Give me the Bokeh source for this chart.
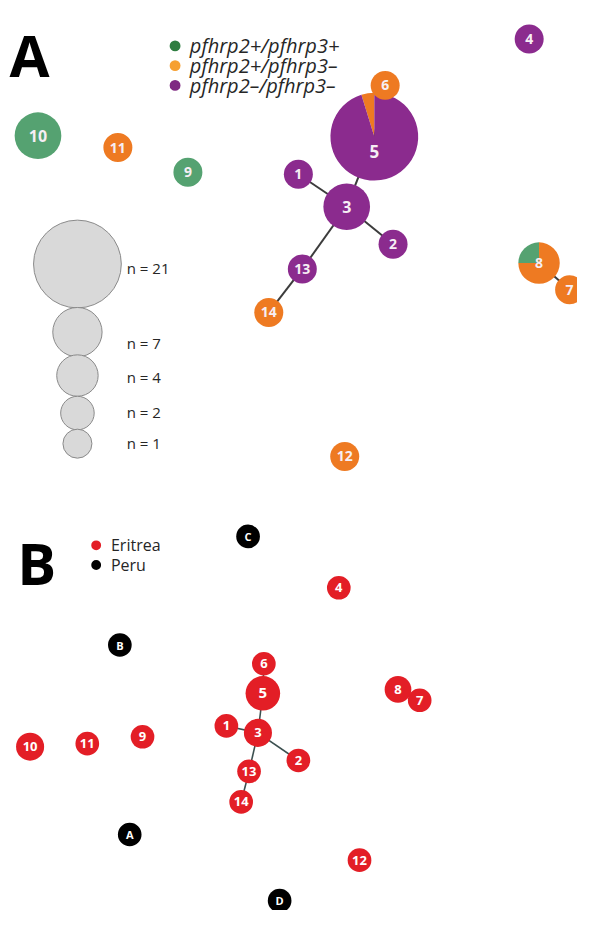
import numpy as np
from bokeh.plotting import figure
from bokeh.models import ColumnDataSource, Range1d
from bokeh.core.properties import value
from bokeh.embed import file_html
from bokeh.resources import INLINE

# ---------------- data ----------------
hap_ids = ["1", "2", "3", "4", "5", "6", "7", "8", "9", "10", "11", "12", "13", "14"]
# haplotype counts per pfhrp2/3 status (panel A)
n_green = [0, 0, 0, 0, 0, 0, 0, 1, 1, 6, 0, 0, 0, 0]    # pfhrp2+/pfhrp3+
n_orange = [0, 0, 0, 0, 1, 1, 1, 3, 0, 0, 1, 1, 0, 1]   # pfhrp2+/pfhrp3-
n_purple = [1, 1, 6, 1, 20, 0, 0, 0, 0, 0, 0, 0, 1, 0]  # pfhrp2-/pfhrp3-
edges = [("6", "5"), ("5", "3"), ("1", "3"), ("3", "2"), ("3", "13"), ("13", "14"), ("8", "7")]

# network layout (picture coordinates, y downwards)
a_x = [302, 398, 351, 536, 379, 390, 577, 546, 190, 38, 119, 349, 306, 272]
a_y = [176, 247, 209, 39, 138, 86, 293, 266, 174, 137, 149, 462, 272, 316]
b_x = [229, 302, 261, 343, 266, 267, 425, 403, 144, 30, 88, 364, 252, 244]
b_y = [735, 770, 742, 595, 702, 672, 709, 698, 746, 756, 753, 871, 781, 812]

peru_ids = ["A", "B", "C", "D"]
peru_n = [1, 1, 1, 1]
peru_x = [131, 121, 251, 283]
peru_y = [845, 653, 543, 912]

size_legend_n = [21, 7, 4, 2, 1]
size_legend_labels = ["n = 21", "n = 7", "n = 4", "n = 2", "n = 1"]

status_labels = ["pfhrp2+/pfhrp3+", "pfhrp2+/pfhrp3\u2013", "pfhrp2\u2013/pfhrp3\u2013"]
country_labels = ["Eritrea", "Peru"]

# ---------------- styles ----------------
NODE_COLORS = ["#55a271", "#ee7a22", "#8b2b8e"]
LEGEND_COLORS = ["#2e7d40", "#f6a032", "#7f2a82"]
RED = "#e31e26"
BLACK = "#000000"
FONT = value("Open Sans")
H = 926


def Y(v):
    return [H - t for t in v]


leg_r = {21: 44.5, 7: 25, 4: 21, 2: 17, 1: 14.7}
ln = sorted(leg_r)
lr = [leg_r[k] for k in ln]


def rad_a(n):
    return float(np.interp(n, ln, lr))


def rad_b(n):
    return 12 + 1.54 * (np.sqrt(n) - 1)


p = figure(width=577, height=910, x_range=Range1d(0, 585), y_range=Range1d(H - 922, H),
           output_backend="svg", toolbar_location=None, min_border=0)
p.axis.visible = False
p.grid.visible = False
p.outline_line_color = None
p.background_fill_color = "white"

idx = {h: i for i, h in enumerate(hap_ids)}
totals = [g + o + u for g, o, u in zip(n_green, n_orange, n_purple)]

# ---------------- panel A ----------------
ex, ey = [], []
for s, t in edges:
    ex.append([a_x[idx[s]], a_x[idx[t]]])
    ey.append([H - a_y[idx[s]], H - a_y[idx[t]]])
p.multi_line(xs=ex, ys=ey, line_color="#3c3c3c", line_width=2)

# nodes, larger first
order = sorted(range(len(hap_ids)), key=lambda i: -totals[i])
for i in order:
    counts = [n_green[i], n_orange[i], n_purple[i]]
    r = rad_a(totals[i])
    nz = [k for k in range(3) if counts[k] > 0]
    if len(nz) == 1:
        p.circle(x=[a_x[i]], y=[H - a_y[i]], radius=r, fill_color=NODE_COLORS[nz[0]], line_color=None)
    else:
        start = np.pi / 2
        for k in nz:
            span = 2 * np.pi * counts[k] / totals[i]
            p.wedge(x=[a_x[i]], y=[H - a_y[i]], radius=r, start_angle=start, end_angle=start + span,
                    direction="anticlock", fill_color=NODE_COLORS[k], line_color=None)
            start += span

lab_y = [H - a_y[i] - (15 if totals[i] > 10 else 0) for i in range(len(hap_ids))]
lab_size = ["17px" if totals[i] > 10 else ("16px" if totals[i] > 4 else "14px") for i in range(len(hap_ids))]
p.text(x=a_x, y=lab_y, text=hap_ids, text_align="center", text_baseline="middle",
       text_font=FONT, text_font_style="bold", text_font_size=lab_size, text_color="#f6eef4")

# panel letter
p.text(x=[9], y=[H - 55], text=["A"], text_font=FONT, text_font_style="bold",
       text_font_size="58px", text_baseline="alphabetic", text_color="black")

# status legend
st_y = [46, 66, 86]
p.circle(x=[177] * 3, y=Y(st_y), radius=5.5, fill_color=LEGEND_COLORS, line_color=None)
p.text(x=[192] * 3, y=Y(st_y), text=status_labels, text_font=FONT, text_font_style="italic",
       text_font_size="20px", text_baseline="middle", text_color="#262626")

# size legend
sz_y = [267, 336, 380, 418, 449]
sz_label_y = [271, 347, 381, 417, 448]
p.circle(x=[78] * 5, y=Y(sz_y), radius=[rad_a(n) for n in size_legend_n],
         fill_color="#d9d9d9", line_color="#8a8a8a", line_width=1)
p.text(x=[128] * 5, y=Y(sz_label_y), text=size_legend_labels, text_font=FONT,
       text_font_size="15px", text_baseline="middle", text_color="#262626")

# ---------------- panel B ----------------
ex, ey = [], []
for s, t in edges:
    ex.append([b_x[idx[s]], b_x[idx[t]]])
    ey.append([H - b_y[idx[s]], H - b_y[idx[t]]])
p.multi_line(xs=ex, ys=ey, line_color="#3c5050", line_width=1.6)

orderb = sorted(range(len(hap_ids)), key=lambda i: -totals[i])
p.circle(x=[b_x[i] for i in orderb], y=[H - b_y[i] for i in orderb],
         radius=[rad_b(totals[i]) for i in orderb], fill_color=RED, line_color=None)
p.circle(x=peru_x, y=Y(peru_y), radius=[rad_b(n) for n in peru_n], fill_color=BLACK, line_color=None)

b_size = ["15px" if totals[i] > 10 else "13px" for i in range(len(hap_ids))]
p.text(x=b_x, y=Y(b_y), text=hap_ids, text_align="center", text_baseline="middle",
       text_font=FONT, text_font_style="bold", text_font_size=b_size, text_color="white")
p.text(x=peru_x, y=Y(peru_y), text=peru_ids, text_align="center", text_baseline="middle",
       text_font=FONT, text_font_style="bold", text_font_size="11px", text_color="white")

p.text(x=[17], y=[H - 569], text=["B"], text_font=FONT, text_font_style="bold",
       text_font_size="58px", text_baseline="alphabetic", text_color="black")

cl_y = [552, 572]
p.circle(x=[97, 97], y=Y(cl_y), radius=5, fill_color=[RED, BLACK], line_color=None)
p.text(x=[112, 112], y=Y(cl_y), text=country_labels, text_font=FONT, text_font_size="16px",
       text_baseline="middle", text_color="#262626")

open("out.html", "w").write(file_html(p, INLINE))
